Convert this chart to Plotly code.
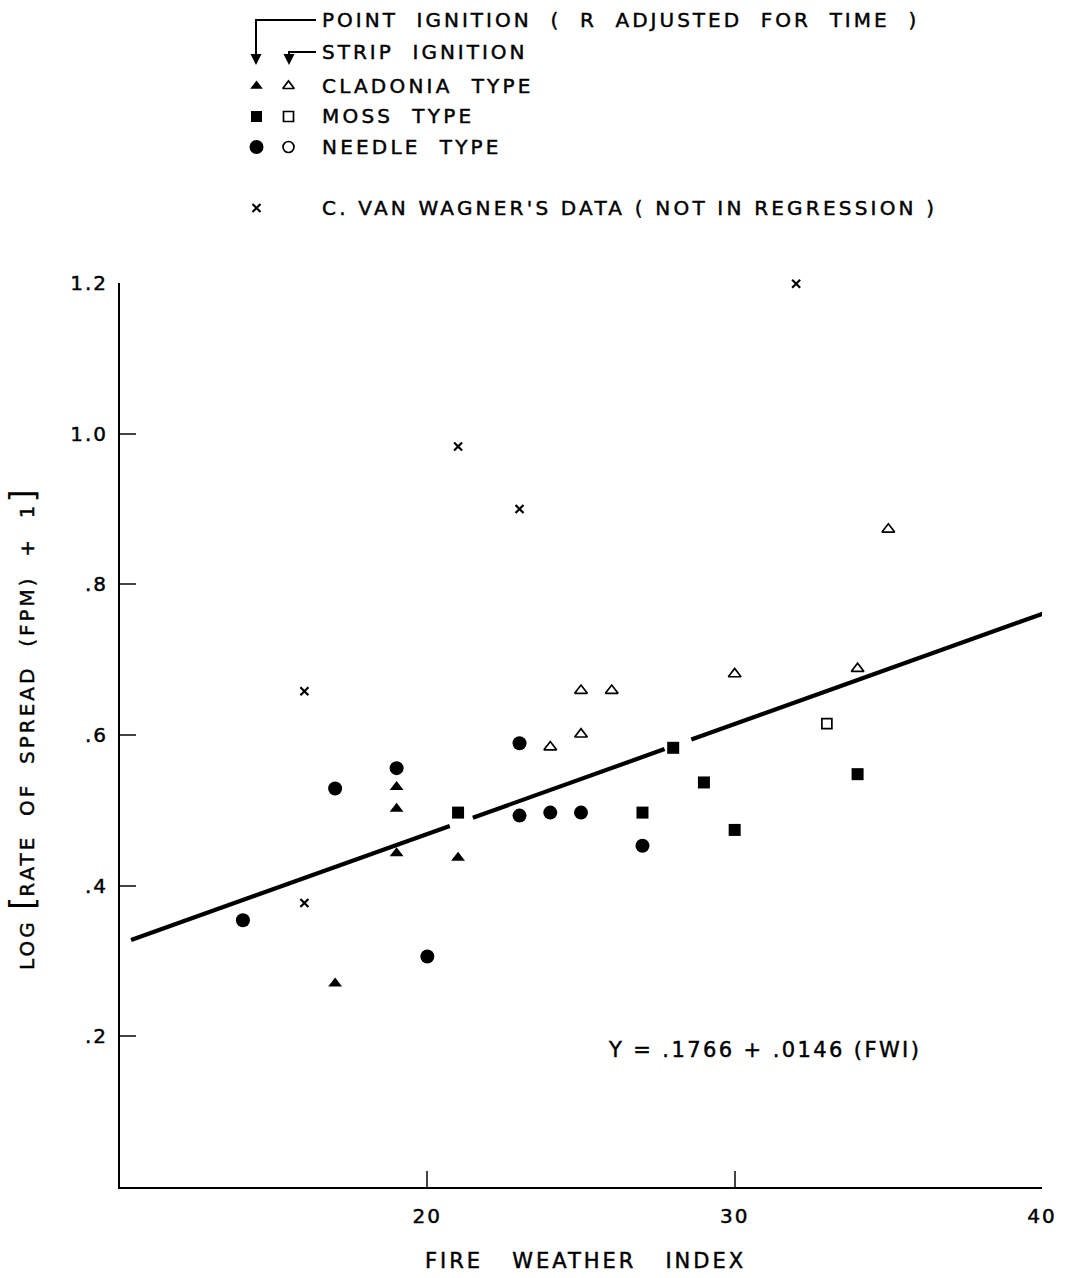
import plotly.graph_objects as go

# ---- observations: fire weather index vs log(rate of spread + 1) ----
point_cladonia_fwi = [17, 19, 19, 19, 21]
point_cladonia_ros = [0.270, 0.531, 0.502, 0.443, 0.437]

strip_cladonia_fwi = [24, 25, 25, 26, 30, 34, 35]
strip_cladonia_ros = [0.584, 0.659, 0.601, 0.659, 0.681, 0.688, 0.873]

point_moss_fwi = [21, 27, 28, 29, 30, 34]
point_moss_ros = [0.497, 0.497, 0.583, 0.537, 0.474, 0.548]

strip_moss_fwi = [33]
strip_moss_ros = [0.615]

point_needle_fwi = [14, 17, 19, 20, 23, 23, 24, 25, 27]
point_needle_ros = [0.354, 0.529, 0.556, 0.306, 0.589, 0.493, 0.497, 0.497, 0.453]

van_wagner_fwi = [16, 16, 21, 23, 32]
van_wagner_ros = [0.658, 0.377, 0.983, 0.900, 1.199]

# regression Y = a + b (FWI), drawn in pieces around crowded markers
intercept = 0.1766
slope = 0.0146
line_pieces = [(10.36, 20.73), (21.48, 27.72), (28.59, 40.08)]

x_ticks = [20, 30, 40]
y_ticks = [0.2, 0.4, 0.6, 0.8, 1.0, 1.2]
y_tick_text = [".2", ".4", ".6", ".8", "1.0", "1.2"]

# key rows and columns
key_rows = ["CLADONIA TYPE", "MOSS TYPE", "NEEDLE TYPE", "", "C. VAN WAGNER'S DATA ( NOT IN REGRESSION )"]
key_cols = ["point", "strip"]

W, H = 1067, 1278
ML, MR, MT, MB = 120, 25, 0, 91
PW, PH = W - ML - MR, H - MT - MB
FONT = "DejaVu Sans"
ROW0, ROWSTEP = 86, 30.5


def fx(px):
    return (px - ML) / PW


def fy(py):
    return (H - MB - py) / PH


def spaced(text, ls, gap=2):
    """Lettered look: widened tracking, wider word gaps, slightly heavier strokes."""
    body = text.replace(" ", "\u00a0" * gap)
    return (f'<span style="letter-spacing:{ls}px;stroke:black;stroke-width:0.45px">'
            f'{body}</span>')


reg_x, reg_y = [], []
for a, b in line_pieces:
    reg_x += [a, b, None]
    reg_y += [intercept + slope * a, intercept + slope * b, None]

fig = go.Figure()

fig.add_trace(go.Scatter(x=reg_x, y=reg_y, mode="lines",
                         line=dict(color="black", width=4.2), hoverinfo="skip"))

filled = dict(color="black")
hollow = dict(color="white", line=dict(color="black", width=1.7))
cross = dict(symbol="x-thin", size=8, line=dict(color="black", width=2.2))

fig.add_trace(go.Scatter(x=point_cladonia_fwi, y=point_cladonia_ros, mode="markers",
                         marker=dict(symbol="triangle-up", size=12, **filled)))
fig.add_trace(go.Scatter(x=strip_cladonia_fwi, y=strip_cladonia_ros, mode="markers",
                         marker=dict(symbol="triangle-up", size=11, **hollow)))
fig.add_trace(go.Scatter(x=point_moss_fwi, y=point_moss_ros, mode="markers",
                         marker=dict(symbol="square", size=12, **filled)))
fig.add_trace(go.Scatter(x=strip_moss_fwi, y=strip_moss_ros, mode="markers",
                         marker=dict(symbol="square", size=10, **hollow)))
fig.add_trace(go.Scatter(x=point_needle_fwi, y=point_needle_ros, mode="markers",
                         marker=dict(symbol="circle", size=14, **filled)))
fig.add_trace(go.Scatter(x=van_wagner_fwi, y=van_wagner_ros, mode="markers",
                         cliponaxis=False, marker=cross))

# key markers on their own small axes
key_common = dict(xaxis="x2", yaxis="y2", mode="markers", hoverinfo="skip", cliponaxis=False)
fig.add_trace(go.Scatter(x=["point"], y=[key_rows[0]], marker=dict(symbol="triangle-up", size=11, **filled), **key_common))
fig.add_trace(go.Scatter(x=["strip"], y=[key_rows[0]], marker=dict(symbol="triangle-up", size=10, **hollow), **key_common))
fig.add_trace(go.Scatter(x=["point"], y=[key_rows[1]], marker=dict(symbol="square", size=11, **filled), **key_common))
fig.add_trace(go.Scatter(x=["strip"], y=[key_rows[1]], marker=dict(symbol="square", size=10, **hollow), **key_common))
fig.add_trace(go.Scatter(x=["point"], y=[key_rows[2]], marker=dict(symbol="circle", size=14, **filled), **key_common))
fig.add_trace(go.Scatter(x=["strip"], y=[key_rows[2]], marker=dict(symbol="circle", size=11, **hollow), **key_common))
fig.add_trace(go.Scatter(x=["point"], y=[key_rows[4]], marker=cross, **key_common))

annotations = []


def label(text, px, py, size=20, xanchor="left", angle=0):
    annotations.append(dict(text=text, x=fx(px), y=fy(py), xref="paper", yref="paper",
                            xanchor=xanchor, yanchor="middle", showarrow=False,
                            textangle=angle, font=dict(family=FONT, size=size, color="black")))


label(spaced("POINT IGNITION ( R ADJUSTED FOR TIME )", 3), 320, 20)
label(spaced("STRIP IGNITION", 3), 320, 52)
for i, row in enumerate(key_rows[:3]):
    label(spaced(row, 3.2), 320, ROW0 + i * ROWSTEP)
label(spaced(key_rows[4], 3.2, 1), 320, ROW0 + 4 * ROWSTEP)

label(spaced("Y = .1766 + .0146 (FWI)", 2.4, 1), 764, 1050, size=21, xanchor="center")
label(spaced("FIRE WEATHER INDEX", 3, 3), 585, 1261, size=21, xanchor="center")
bracket_l = '<span style="font-size:34px">[</span>'
bracket_r = '<span style="font-size:34px">]</span>'
label(spaced("LOG ", 3, 1) + bracket_l + spaced("RATE OF SPREAD (FPM) + 1", 3, 2) + bracket_r,
      22, 730, size=20, xanchor="center", angle=-90)

# arrows from the ignition headings down to the key columns
shapes = [
    dict(type="path", xref="paper", yref="paper",
         path=f"M {fx(316)},{fy(20)} L {fx(256)},{fy(20)} L {fx(256)},{fy(56)}",
         line=dict(color="black", width=2)),
    dict(type="path", xref="paper", yref="paper",
         path=f"M {fx(316)},{fy(52)} L {fx(289)},{fy(52)} L {fx(289)},{fy(56)}",
         line=dict(color="black", width=2)),
]
for xpx in (256, 289):
    annotations.append(dict(x=fx(xpx), y=fy(65), xref="paper", yref="paper", text="",
                            showarrow=True, ax=0, ay=-14, arrowhead=2, arrowsize=1.1,
                            arrowwidth=2, arrowcolor="black"))

fig.update_layout(
    width=W, height=H,
    margin=dict(l=ML, r=MR, t=MT, b=MB, autoexpand=False),
    paper_bgcolor="white", plot_bgcolor="white",
    showlegend=False,
    font=dict(family=FONT, size=20, color="black"),
    xaxis=dict(range=[10, 40], tickvals=x_ticks, ticktext=[spaced(str(v), 2) for v in x_ticks],
               ticks="inside", ticklen=16, tickwidth=2,
               showline=True, linewidth=2, linecolor="black", showgrid=False, zeroline=False,
               tickfont=dict(family=FONT, size=20), ticklabelstandoff=10),
    yaxis=dict(range=[0, 1.2], domain=[0, fy(283)], tickvals=y_ticks,
               ticktext=[spaced(t, 2) for t in y_tick_text],
               ticks="inside", ticklen=16, tickwidth=2, showline=True, linewidth=2,
               linecolor="black", showgrid=False, zeroline=False,
               tickfont=dict(family=FONT, size=20), ticklabelstandoff=6),
    xaxis2=dict(domain=[fx(240.5), fx(304.5)], anchor="y2", type="category",
                categoryarray=key_cols, range=[-0.5, 1.5], visible=False),
    yaxis2=dict(domain=[fy(ROW0 + 4.5 * ROWSTEP), fy(ROW0 - 0.5 * ROWSTEP)], anchor="x2",
                type="category", categoryarray=key_rows, range=[4.5, -0.5], visible=False),
    annotations=annotations,
    shapes=shapes,
)

fig.write_html("out.html")
